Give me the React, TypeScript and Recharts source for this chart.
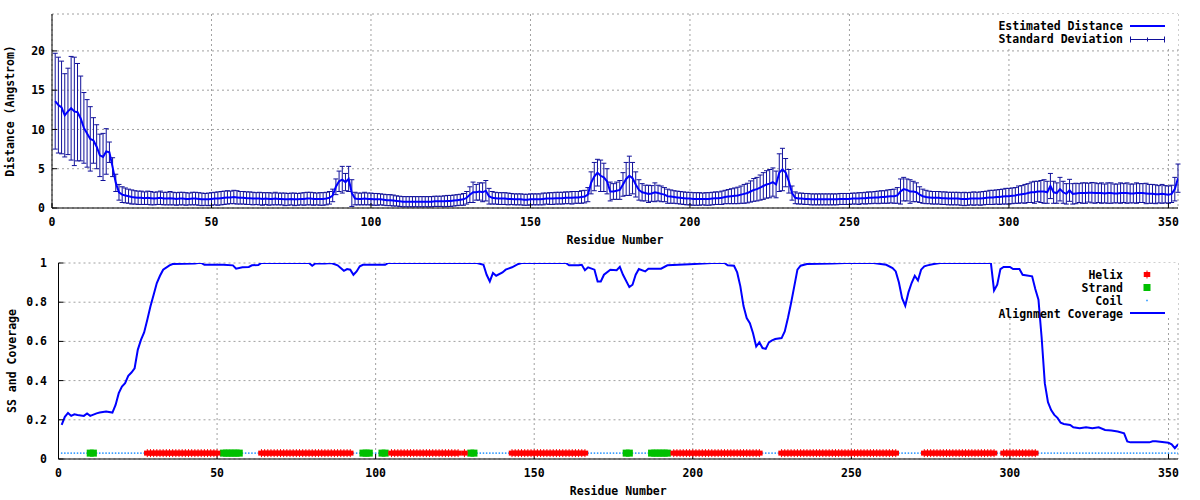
import React from "react";
import {
  ComposedChart,
  Line,
  Scatter,
  XAxis,
  YAxis,
  CartesianGrid,
  ErrorBar,
  ReferenceArea,
  Legend,
} from "recharts";

const RESIDUE_COUNT = 353;
const X_TICKS = [0, 50, 100, 150, 200, 250, 300, 350];
const DIST_TICKS = [0, 5, 10, 15, 20];
const COVER_TICKS = [0, 0.2, 0.4, 0.6, 0.8, 1];

// estimated distance per residue (1..353)
const DISTANCE = [
  13.6, 13.1, 12.8, 11.8, 12.3, 12.7, 12.3, 12.2, 11.4, 10.2,
  9.5, 8.8, 8.6, 7.8, 6.7, 6.5, 7.2, 7.1, 5.2, 3.2,
  2.0, 1.7, 1.6, 1.5, 1.4, 1.35, 1.3, 1.3, 1.25, 1.3,
  1.25, 1.2, 1.25, 1.3, 1.2, 1.2, 1.25, 1.2, 1.15, 1.2,
  1.2, 1.15, 1.15, 1.2, 1.2, 1.15, 1.1, 1.1, 1.1, 1.15,
  1.2, 1.2, 1.25, 1.3, 1.35, 1.35, 1.4, 1.35, 1.3, 1.3,
  1.25, 1.25, 1.2, 1.2, 1.2, 1.15, 1.2, 1.15, 1.15, 1.2,
  1.15, 1.15, 1.1, 1.1, 1.15, 1.1, 1.1, 1.15, 1.15, 1.2,
  1.2, 1.15, 1.15, 1.15, 1.15, 1.2, 1.3, 1.6, 2.7, 3.4,
  3.6, 3.3, 3.7, 1.9, 1.2, 1.15, 1.15, 1.2, 1.15, 1.15,
  1.1, 1.1, 1.1, 1.05, 1.0, 1.0, 0.95, 0.9, 0.85, 0.8,
  0.8, 0.8, 0.8, 0.8, 0.8, 0.8, 0.8, 0.8, 0.8, 0.85,
  0.85, 0.85, 0.85, 0.9, 0.9, 0.95, 1.0, 1.05, 1.1, 1.3,
  1.7, 2.0, 2.0, 2.1, 2.0, 2.2, 1.5, 1.3, 1.25, 1.2,
  1.2, 1.2, 1.15, 1.15, 1.1, 1.1, 1.1, 1.05, 1.05, 1.1,
  1.1, 1.1, 1.1, 1.15, 1.2, 1.2, 1.2, 1.25, 1.25, 1.25,
  1.3, 1.3, 1.3, 1.35, 1.35, 1.4, 1.45, 1.7, 3.2, 4.0,
  4.5, 4.1, 3.9, 3.4, 2.1, 2.1, 2.2, 2.3, 3.0, 3.7,
  4.1, 3.8, 3.0, 2.3, 2.0, 1.9, 1.8, 1.85, 2.0, 1.9,
  1.8, 1.7, 1.5, 1.45, 1.4, 1.35, 1.3, 1.25, 1.2, 1.2,
  1.15, 1.15, 1.15, 1.15, 1.15, 1.15, 1.2, 1.25, 1.25, 1.3,
  1.4, 1.45, 1.5, 1.55, 1.6, 1.7, 1.8, 1.9, 2.1, 2.3,
  2.4, 2.6, 2.8, 3.0, 3.1, 3.3, 3.0, 4.5, 4.9, 4.5,
  3.4, 1.9, 1.3, 1.2, 1.2, 1.15, 1.15, 1.1, 1.1, 1.1,
  1.1, 1.1, 1.1, 1.1, 1.1, 1.1, 1.15, 1.15, 1.15, 1.15,
  1.2, 1.2, 1.2, 1.25, 1.25, 1.3, 1.3, 1.35, 1.35, 1.4,
  1.4, 1.45, 1.5, 1.5, 1.6, 2.1, 2.4, 2.3, 2.1, 2.1,
  2.0, 1.7, 1.5, 1.4, 1.35, 1.3, 1.3, 1.3, 1.25, 1.25,
  1.2, 1.2, 1.2, 1.2, 1.15, 1.15, 1.15, 1.2, 1.2, 1.2,
  1.2, 1.25, 1.3, 1.35, 1.35, 1.4, 1.4, 1.45, 1.5, 1.5,
  1.55, 1.6, 1.7, 1.75, 1.8, 1.9, 2.0, 2.0, 2.1, 2.1,
  2.1, 2.0, 2.8, 2.0, 1.9, 2.4, 2.0, 1.8, 2.25, 1.8,
  1.85, 1.9, 1.9, 1.9, 1.95, 1.95, 1.9, 1.9, 1.9, 1.85,
  1.9, 1.9, 1.85, 1.85, 1.9, 1.9, 1.9, 1.85, 1.85, 1.9,
  1.9, 1.9, 1.85, 1.8, 1.8, 1.75, 1.75, 1.8, 1.75, 1.7,
  1.8, 2.4, 3.8,
];

// standard deviation per residue (1..353)
const STD_DEV = [
  6.1, 6.1, 5.9, 5.3, 5.5, 6.6, 6.9, 6.2, 5.4, 4.5,
  4.3, 4.1, 2.9, 2.8, 2.7, 3.0, 2.9, 1.3, 1.2, 1.1,
  1.0, 1.0, 0.95, 0.9, 0.9, 0.85, 0.85, 0.85, 0.8, 0.85,
  0.85, 0.8, 0.8, 0.85, 0.8, 0.8, 0.85, 0.8, 0.8, 0.8,
  0.8, 0.8, 0.75, 0.8, 0.8, 0.8, 0.8, 0.75, 0.8, 0.8,
  0.8, 0.85, 0.85, 0.85, 0.85, 0.8, 0.85, 0.85, 0.8, 0.8,
  0.8, 0.8, 0.8, 0.75, 0.8, 0.8, 0.75, 0.8, 0.75, 0.8,
  0.75, 0.75, 0.8, 0.75, 0.75, 0.8, 0.75, 0.75, 0.8, 0.8,
  0.8, 0.8, 0.75, 0.8, 0.8, 0.8, 0.8, 0.8, 1.0, 1.3,
  1.7, 1.1, 1.6, 1.7, 0.8, 0.75, 0.75, 0.8, 0.75, 0.75,
  0.75, 0.75, 0.7, 0.7, 0.7, 0.7, 0.7, 0.65, 0.65, 0.65,
  0.65, 0.65, 0.65, 0.65, 0.65, 0.65, 0.65, 0.65, 0.65, 0.65,
  0.65, 0.65, 0.7, 0.7, 0.7, 0.7, 0.7, 0.7, 0.75, 0.8,
  1.0, 1.3, 1.0, 1.1, 1.2, 1.3, 1.0, 0.8, 0.75, 0.75,
  0.75, 0.75, 0.75, 0.7, 0.7, 0.7, 0.7, 0.7, 0.7, 0.7,
  0.7, 0.7, 0.7, 0.75, 0.7, 0.75, 0.75, 0.75, 0.75, 0.75,
  0.75, 0.75, 0.8, 0.75, 0.75, 0.8, 0.8, 0.9, 1.4, 1.8,
  1.7, 2.0, 1.8, 1.6, 1.2, 1.0, 1.1, 1.2, 1.5, 2.1,
  2.5, 2.0, 1.6, 1.3, 1.1, 1.0, 1.1, 1.0, 1.2, 1.0,
  1.0, 0.9, 0.9, 0.85, 0.8, 0.8, 0.8, 0.8, 0.8, 0.8,
  0.8, 0.8, 0.8, 0.75, 0.8, 0.8, 0.8, 0.8, 0.8, 0.85,
  0.85, 0.9, 0.95, 1.0, 1.05, 1.1, 1.2, 1.25, 1.35, 1.45,
  1.5, 1.6, 1.7, 1.75, 1.8, 1.8, 1.7, 2.4, 2.7, 1.8,
  1.5, 0.9, 0.75, 0.7, 0.7, 0.7, 0.7, 0.7, 0.7, 0.7,
  0.7, 0.7, 0.7, 0.7, 0.7, 0.7, 0.7, 0.7, 0.7, 0.7,
  0.7, 0.7, 0.75, 0.7, 0.75, 0.75, 0.75, 0.75, 0.8, 0.8,
  0.8, 0.85, 0.85, 0.9, 1.0, 1.6, 1.5, 1.4, 1.5, 1.3,
  1.2, 1.0, 0.9, 0.85, 0.8, 0.8, 0.8, 0.8, 0.8, 0.8,
  0.8, 0.8, 0.8, 0.8, 0.8, 0.85, 0.8, 0.8, 0.85, 0.8,
  0.85, 0.85, 0.85, 0.9, 0.9, 0.9, 0.95, 0.95, 1.0, 1.0,
  1.0, 1.0, 1.1, 1.1, 1.2, 1.2, 1.3, 1.4, 1.3, 1.4,
  1.5, 1.4, 1.6, 1.4, 1.3, 1.5, 1.4, 1.3, 1.4, 1.3,
  1.3, 1.2, 1.3, 1.3, 1.2, 1.3, 1.3, 1.2, 1.3, 1.2,
  1.3, 1.3, 1.2, 1.2, 1.3, 1.2, 1.3, 1.2, 1.2, 1.3,
  1.2, 1.2, 1.3, 1.2, 1.2, 1.2, 1.1, 1.2, 1.1, 1.1,
  1.1, 1.5, 1.8,
];

const COVERAGE_RES = [
  1, 2, 3, 4, 5, 6, 8, 9, 10, 12, 13, 15, 17, 18, 19, 20, 21, 22, 23, 24,
  25, 26, 27, 28, 29, 30, 31, 32, 33, 35, 36, 43, 44, 45, 46, 52, 55, 56, 58, 60,
  61, 63, 64, 79, 80, 81, 84, 86, 88, 90, 91, 92, 93, 94, 95, 96, 103, 104, 132, 134,
  135, 136, 137, 138, 140, 141, 143, 145, 146, 160, 161, 164, 165, 166, 167, 169, 170, 171, 172, 174,
  176, 177, 178, 180, 181, 182, 183, 185, 186, 190, 192, 199, 206, 210, 211, 213, 214, 215, 216, 217,
  218, 219, 220, 221, 222, 223, 224, 225, 226, 228, 229, 230, 231, 232, 233, 234, 236, 244, 248, 257,
  261, 263, 264, 265, 266, 267, 268, 269, 270, 271, 272, 273, 274, 276, 278, 294, 295, 296, 297, 298,
  300, 301, 303, 304, 307, 308, 309, 310, 311, 312, 313, 314, 315, 316, 317, 319, 320, 322, 324, 326,
  328, 330, 332, 334, 336, 337, 338, 344, 345, 346, 350, 351, 352, 353,
];
const COVERAGE = [
  0.174, 0.215, 0.235, 0.22, 0.228, 0.225, 0.22, 0.232, 0.22, 0.233, 0.237, 0.242, 0.237, 0.276, 0.336, 0.37, 0.387, 0.424, 0.441, 0.463,
  0.557, 0.608, 0.646, 0.71, 0.779, 0.838, 0.898, 0.935, 0.966, 0.988, 0.995, 0.997, 1, 1, 0.991, 0.991, 0.988, 0.971, 0.978, 0.98,
  0.988, 0.99, 1, 1, 0.986, 0.998, 0.997, 1, 0.988, 0.96, 0.969, 0.966, 0.94, 0.957, 0.983, 0.991, 0.991, 1, 1, 0.991,
  0.94, 0.906, 0.949, 0.935, 0.952, 0.966, 0.978, 0.995, 1, 1, 0.988, 0.988, 0.991, 0.963, 0.978, 0.966, 0.906, 0.906, 0.94, 0.966,
  0.963, 0.98, 0.94, 0.877, 0.889, 0.94, 0.969, 0.957, 0.971, 0.971, 0.988, 0.993, 1, 1, 0.988, 0.986, 0.952, 0.881, 0.78, 0.719,
  0.693, 0.642, 0.574, 0.595, 0.566, 0.562, 0.595, 0.605, 0.612, 0.617, 0.651, 0.719, 0.796, 0.881, 0.966, 0.986, 0.995, 0.997, 1, 1,
  0.991, 0.974, 0.957, 0.9, 0.821, 0.782, 0.85, 0.898, 0.935, 0.911, 0.966, 0.983, 0.988, 0.995, 1, 1, 0.86, 0.889, 0.969, 0.98,
  0.98, 0.969, 0.969, 0.94, 0.932, 0.867, 0.813, 0.62, 0.387, 0.29, 0.25, 0.225, 0.21, 0.185, 0.179, 0.174, 0.162, 0.157, 0.162, 0.157,
  0.162, 0.148, 0.145, 0.14, 0.131, 0.09, 0.085, 0.085, 0.09, 0.09, 0.083, 0.075, 0.055, 0.075,
];

// secondary structure segments [first, last] residue
const HELIX = [
  [28, 50], [64, 92], [105, 126], [128, 128], [143, 166],
  [194, 221], [228, 264], [273, 295], [298, 308],
];
const STRAND = [
  [10, 11], [52, 57], [96, 98], [102, 103], [130, 131], [179, 180], [187, 192],
];
const SS_LEVEL = 0.03;

const BLUE = "#0000ff";
const ERR_BLUE = "#10109a";
const RED = "#ff0000";
const GREEN = "#00c000";
const COIL_BLUE = "#1e90ff";
const GRID = "#a0a0a0";
const FONT = "'DejaVu Sans Mono', 'Liberation Mono', monospace";

const textStyle = { fontFamily: FONT, fontSize: 11.5, fontWeight: 700, fill: "#000" };
const tickStyle = { ...textStyle };

const distData = DISTANCE.map((d, i) => ({ x: i + 1, dist: d, sd: STD_DEV[i] }));
const coverData = COVERAGE_RES.map((r, i) => ({ x: r, cov: COVERAGE[i] }));

const inRanges = (r: number, ranges: number[][]) => ranges.some(([a, b]) => r >= a && r <= b);
const residues = Array.from({ length: RESIDUE_COUNT }, (_, i) => i + 1);
const helixPts = residues.filter((r) => inRanges(r, HELIX)).map((r) => ({ x: r, ss: SS_LEVEL }));
const strandPts = residues
  .filter((r) => !inRanges(r, HELIX) && inRanges(r, STRAND))
  .map((r) => ({ x: r, ss: SS_LEVEL }));
const coilPts = residues
  .filter((r) => !inRanges(r, HELIX) && !inRanges(r, STRAND))
  .map((r) => ({ x: r, ss: SS_LEVEL }));

function HelixMark({ cx, cy }: any) {
  return (
    <g>
      <rect x={cx - 3.25} y={cy - 2.5} width={6.5} height={5} fill={RED} />
      <line x1={cx} x2={cx} y1={cy - 4} y2={cy + 4} stroke={RED} strokeWidth={1} />
    </g>
  );
}

function StrandMark({ cx, cy }: any) {
  return <rect x={cx - 3.5} y={cy - 3.5} width={7} height={7} fill={GREEN} />;
}

function CoilMark({ cx, cy }: any) {
  return <rect x={cx - 0.75} y={cy - 0.75} width={1.5} height={1.5} fill={COIL_BLUE} />;
}

function XTitle(props: any) {
  const vb = props.viewBox || { x: 0, y: 0, width: 0, height: 0 };
  return (
    <text x={vb.x + vb.width / 2} y={vb.y + 36} textAnchor="middle" style={textStyle}>
      Residue Number
    </text>
  );
}

function YTitle(props: any) {
  const vb = props.viewBox || { x: 0, y: 0, width: 0, height: 0 };
  const cx = vb.x + props.dist;
  const cy = vb.y + vb.height / 2;
  return (
    <text
      x={cx}
      y={cy}
      transform={`rotate(-90 ${cx} ${cy})`}
      textAnchor="middle"
      dominantBaseline="central"
      style={textStyle}
    >
      {props.title}
    </text>
  );
}

function DistanceKey() {
  return (
    <svg width={1200} height={250} style={{ position: "absolute", left: 0, top: 0 }}>
      <text x={1123} y={30} textAnchor="end" style={textStyle}>Estimated Distance</text>
      <line x1={1130} x2={1165} y1={26} y2={26} stroke={BLUE} strokeWidth={2} />
      <text x={1123} y={43} textAnchor="end" style={textStyle}>Standard Deviation</text>
      <line x1={1130} x2={1165} y1={39.5} y2={39.5} stroke={ERR_BLUE} />
      <line x1={1130.5} x2={1130.5} y1={36.5} y2={42.5} stroke={ERR_BLUE} />
      <line x1={1164.5} x2={1164.5} y1={36.5} y2={42.5} stroke={ERR_BLUE} />
      <line x1={1147.5} x2={1147.5} y1={37.5} y2={41.5} stroke={ERR_BLUE} />
    </svg>
  );
}

function CoverageKey() {
  return (
    <svg width={1200} height={250} style={{ position: "absolute", left: 0, top: 0 }}>
      <text x={1123} y={29} textAnchor="end" style={textStyle}>Helix</text>
      <HelixMark cx={1147} cy={24.5} />
      <text x={1123} y={42} textAnchor="end" style={textStyle}>Strand</text>
      <StrandMark cx={1147} cy={37.5} />
      <text x={1123} y={55} textAnchor="end" style={textStyle}>Coil</text>
      <CoilMark cx={1147} cy={50.5} />
      <text x={1123} y={68} textAnchor="end" style={textStyle}>Alignment Coverage</text>
      <line x1={1130} x2={1165} y1={63} y2={63} stroke={BLUE} strokeWidth={2} />
    </svg>
  );
}

const keyWrapper = { left: 0, top: 0, width: 1200, height: 250 };

export default function App() {
  return (
    <div
      style={{
        position: "absolute",
        left: 0,
        top: 0,
        width: 1200,
        height: 500,
        background: "#fff",
        fontFamily: FONT,
      }}
    >
      <div style={{ position: "absolute", left: 0, top: 0 }}>
        <ComposedChart
          width={1200}
          height={250}
          data={distData}
          margin={{ top: 14, right: 22, bottom: 0, left: 0 }}
        >
          <CartesianGrid stroke={GRID} strokeDasharray="2 3" />
          <ReferenceArea x1={297} x2={353} y1={20.6} y2={24.7} fill="#fff" fillOpacity={1} stroke="none" />
          <XAxis
            dataKey="x"
            type="number"
            domain={[0, 353]}
            ticks={X_TICKS}
            interval={0}
            allowDataOverflow
            height={42}
            stroke="#000"
            tickSize={-5}
            tickMargin={15}
            tick={tickStyle}
            label={<XTitle />}
          />
          <YAxis
            type="number"
            domain={[0, 24.7]}
            ticks={DIST_TICKS}
            interval={0}
            allowDataOverflow
            width={52}
            stroke="#000"
            tickSize={-5}
            tickMargin={12}
            tick={tickStyle}
            label={<YTitle title="Distance (Angstrom)" dist={10} />}
          />
          <XAxis
            xAxisId="top"
            orientation="top"
            type="number"
            domain={[0, 353]}
            ticks={X_TICKS}
            interval={0}
            allowDataOverflow
            height={0}
            stroke="#000"
            tickSize={-5}
            tick={false}
          />
          <YAxis
            yAxisId="right"
            orientation="right"
            type="number"
            domain={[0, 24.7]}
            ticks={DIST_TICKS}
            interval={0}
            allowDataOverflow
            width={0}
            stroke="#000"
            tickSize={-5}
            tick={false}
          />
          <Line dataKey="dist" stroke="none" dot={false} legendType="none" isAnimationActive={false}>
            <ErrorBar dataKey="sd" width={2.5} stroke={ERR_BLUE} strokeWidth={1} direction="y" isAnimationActive={false} />
          </Line>
          <Line dataKey="dist" stroke={BLUE} strokeWidth={2} dot={false} type="linear" isAnimationActive={false} />
          <Legend
            layout="vertical"
            align="center"
            verticalAlign="middle"
            wrapperStyle={keyWrapper}
            content={() => <DistanceKey />}
          />
        </ComposedChart>
      </div>
      <div style={{ position: "absolute", left: 0, top: 250 }}>
        <ComposedChart width={1200} height={250} margin={{ top: 13, right: 22, bottom: 0, left: 0.5 }}>
          <CartesianGrid stroke={GRID} strokeDasharray="2 3" />
          <ReferenceArea x1={297} x2={353} y1={0.72} y2={1} fill="#fff" fillOpacity={1} stroke="none" />
          <XAxis
            dataKey="x"
            type="number"
            domain={[0, 353]}
            ticks={X_TICKS}
            interval={0}
            allowDataOverflow
            height={41}
            stroke="#000"
            tickSize={-5}
            tickMargin={15}
            tick={tickStyle}
            label={<XTitle />}
          />
          <YAxis
            type="number"
            domain={[0, 1]}
            ticks={COVER_TICKS}
            interval={0}
            allowDataOverflow
            width={58}
            stroke="#000"
            tickSize={-5}
            tickMargin={16.5}
            tick={tickStyle}
            label={<YTitle title="SS and Coverage" dist={11} />}
          />
          <XAxis
            xAxisId="top"
            orientation="top"
            type="number"
            domain={[0, 353]}
            ticks={X_TICKS}
            interval={0}
            allowDataOverflow
            height={0}
            stroke="#000"
            tickSize={-5}
            tick={false}
          />
          <YAxis
            yAxisId="right"
            orientation="right"
            type="number"
            domain={[0, 1]}
            ticks={COVER_TICKS}
            interval={0}
            allowDataOverflow
            width={0}
            stroke="#000"
            tickSize={-5}
            tick={false}
          />
          <Scatter data={coilPts} dataKey="ss" shape={CoilMark} legendType="none" isAnimationActive={false} />
          <Scatter data={strandPts} dataKey="ss" shape={StrandMark} legendType="none" isAnimationActive={false} />
          <Scatter data={helixPts} dataKey="ss" shape={HelixMark} legendType="none" isAnimationActive={false} />
          <Line
            data={coverData}
            dataKey="cov"
            stroke={BLUE}
            strokeWidth={2}
            dot={false}
            type="linear"
            isAnimationActive={false}
          />
          <Legend
            layout="vertical"
            align="center"
            verticalAlign="middle"
            wrapperStyle={keyWrapper}
            content={() => <CoverageKey />}
          />
        </ComposedChart>
      </div>
    </div>
  );
}
